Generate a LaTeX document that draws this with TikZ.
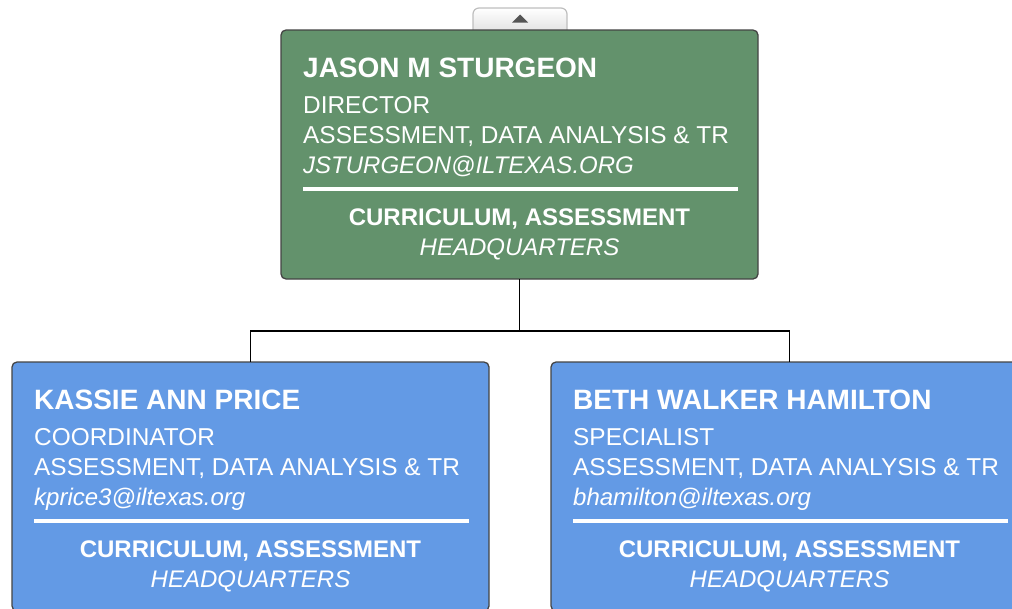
\documentclass[tikz,border=0pt]{standalone}
\usepackage{fontspec}
\setmainfont{Liberation Sans}
\usepackage{xcolor}
\usepackage{tikz}
\definecolor{headgreen}{RGB}{99,146,108}
\definecolor{staffblue}{RGB}{99,154,229}
\definecolor{boxedge}{RGB}{68,68,68}
\definecolor{tabedge}{RGB}{190,190,190}
\definecolor{tabarrow}{RGB}{85,85,85}

\tikzset{
  card/.style={draw=boxedge, line width=1.3pt, rounded corners=5pt,
    minimum width=477pt, minimum height=249pt, inner sep=0pt, outer sep=0pt},
  bigname/.style={anchor=base west, inner sep=0pt, text=white,
    font=\fontsize{28}{28}\selectfont\bfseries},
  info/.style={anchor=base west, inner sep=0pt, text=white,
    font=\fontsize{24.4}{24}\selectfont},
  mail/.style={info, font=\fontsize{24}{24}\selectfont\itshape},
  site/.style={anchor=base, inner sep=0pt, text=white,
    font=\fontsize{24}{24}\selectfont\bfseries},
  hq/.style={site, font=\fontsize{24}{24}\selectfont\itshape},
  divider/.style={white, line width=4pt},
  link/.style={black, line width=1.8pt}
}

\begin{document}
\begin{tikzpicture}[x=1pt,y=-1pt]
\useasboundingbox (0,0) rectangle (1012,608);
\clip (0,0) rectangle (1012,608);

    % collapse tab
    \draw[tabedge, line width=1.2pt, top color=white, bottom color=gray!22, rounded corners=6pt]
        (473,31) -- (473,8) -- (567,8) -- (567,31);
    \fill[tabarrow] (512,22.5) -- (528,22.5) -- (520,14.5) -- cycle;

    % director
    \node[card, fill=headgreen] (jason) at (519.5,154.5) {};
    \node[bigname] (jasonname) at ([shift={(22,47.3)}]jason.north west) {JASON M STURGEON};
    \node[info] (jasonrole) at ([shift={(22,83.3)}]jason.north west) {DIRECTOR};
    \node[info] (jasondept) at ([shift={(22,113.3)}]jason.north west) {ASSESSMENT, DATA ANALYSIS \& TR};
    \node[mail] (jasonmail) at ([shift={(22,143.3)}]jason.north west) {JSTURGEON@ILTEXAS.ORG};
    \draw[divider] ([shift={(22,158.5)}]jason.north west) -- ([shift={(-20,158.5)}]jason.north east);
    \node[site] (jasonsite) at ([shift={(0,195)}]jason.north) {CURRICULUM, ASSESSMENT};
    \node[hq] (jasonhq) at ([shift={(0,225)}]jason.north) {HEADQUARTERS};

    % coordinator
    \node[card, fill=staffblue] (kassie) at (250.5,486.5) {};
    \node[bigname] (kassiename) at ([shift={(22,47.3)}]kassie.north west) {KASSIE ANN PRICE};
    \node[info] (kassierole) at ([shift={(22,83.3)}]kassie.north west) {COORDINATOR};
    \node[info] (kassiedept) at ([shift={(22,113.3)}]kassie.north west) {ASSESSMENT, DATA ANALYSIS \& TR};
    \node[mail] (kassiemail) at ([shift={(22,143.3)}]kassie.north west) {kprice3@iltexas.org};
    \draw[divider] ([shift={(22,158.5)}]kassie.north west) -- ([shift={(-20,158.5)}]kassie.north east);
    \node[site] (kassiesite) at ([shift={(0,195)}]kassie.north) {CURRICULUM, ASSESSMENT};
    \node[hq] (kassiehq) at ([shift={(0,225)}]kassie.north) {HEADQUARTERS};

    % specialist
    \node[card, fill=staffblue] (beth) at (789.5,486.5) {};
    \node[bigname] (bethname) at ([shift={(22,47.3)}]beth.north west) {BETH WALKER HAMILTON};
    \node[info] (bethrole) at ([shift={(22,83.3)}]beth.north west) {SPECIALIST};
    \node[info] (bethdept) at ([shift={(22,113.3)}]beth.north west) {ASSESSMENT, DATA ANALYSIS \& TR};
    \node[mail] (bethmail) at ([shift={(22,143.3)}]beth.north west) {bhamilton@iltexas.org};
    \draw[divider] ([shift={(22,158.5)}]beth.north west) -- ([shift={(-20,158.5)}]beth.north east);
    \node[site] (bethsite) at ([shift={(0,195)}]beth.north) {CURRICULUM, ASSESSMENT};
    \node[hq] (bethhq) at ([shift={(0,225)}]beth.north) {HEADQUARTERS};

    % reporting lines
    \draw[link] (jason.south) -- ++(0,52) coordinate (split) -| (kassie.north);
    \draw[link] (split) -| (beth.north);

\end{tikzpicture}
\end{document}
